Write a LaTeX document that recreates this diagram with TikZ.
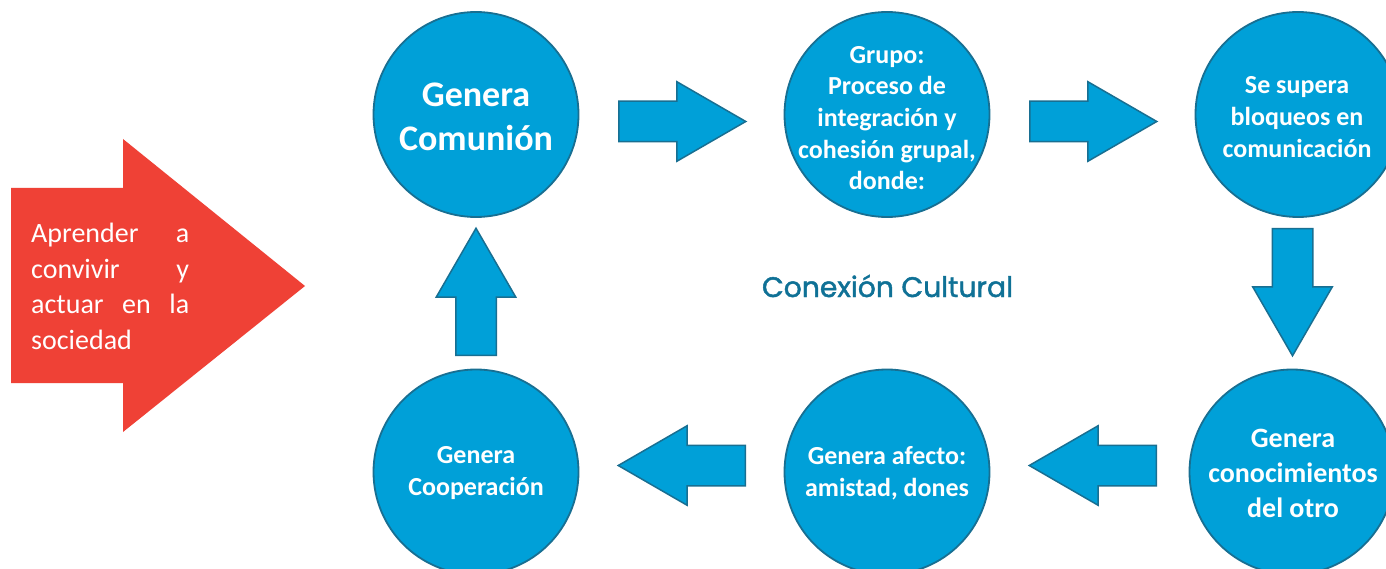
\documentclass[tikz,border=0pt]{standalone}
\usepackage{fontspec}
\usepackage{graphicx}
\setmainfont{Carlito}
\newfontfamily\conexfont{Poppins}[FakeBold=1.6]
\usetikzlibrary{shapes.arrows,calc}
\definecolor{cblue}{HTML}{00A0D8}
\definecolor{cedge}{HTML}{186F92}
\definecolor{cred}{HTML}{EF4136}
\definecolor{cteal}{HTML}{0F7196}
\begin{document}
\begin{tikzpicture}[x=1pt,y=-1pt,
  bubble/.style={circle, fill=cblue, draw=cedge, line width=1.8pt, minimum size=205pt, inner sep=0pt},
  btext/.style={text=white, align=center, inner sep=0pt},
  barrow/.style={single arrow, fill=cblue, draw=cedge, line width=1.5pt,
    minimum height=127pt, minimum width=78pt, inner xsep=0pt, inner ysep=19.5pt,
    single arrow head extend=19.5pt, single arrow tip angle=60, anchor=tail}
]
\useasboundingbox (0,0) rectangle (1386,569);
\fill[white] (0,0) rectangle (1386,569);
\clip (0,0) rectangle (1386,569);

% red block arrow
\fill[cred] (11,188) -- (123,188) -- (123,139) -- (305,286) -- (123,432) -- (123,383) -- (11,383) -- cycle;
\node[anchor=base west, inner sep=0pt, text=white] (rt) at (31,243)
  {\parbox[t]{158pt}{\fontsize{28}{35.5}\selectfont
   \hbox to 158pt{Aprender\hfill a}%
   \hbox to 158pt{convivir\hfill y}%
   \hbox to 158pt{actuar\hfill en\hfill la}%
   \hbox{sociedad}}};

% circles
\node[bubble] (c1) at (476,114.5) {};
\node[bubble] (c2) at (887,114.5) {};
\node[bubble] (c3) at (1298,114.5) {};
\node[bubble] (c4) at (1292,472) {};
\node[bubble] (c5) at (887,472) {};
\node[bubble] (c6) at (476,472) {};

% texts
\node[btext, font=\bfseries\fontsize{36}{44}\selectfont] (t1) at (476,117) {Genera\\Comunión};
\node[btext, font=\bfseries\fontsize{26}{31.7}\selectfont] (t2) at (887,118) {Grupo:\\Proceso de\\integración y\\cohesión grupal,\\donde:};
\node[btext, font=\bfseries\fontsize{26}{31.7}\selectfont] (t3) at (1297,117) {Se supera\\bloqueos en\\comunicación};
\node[btext, font=\bfseries\fontsize{28}{35}\selectfont] (t4) at (1293,473) {Genera\\conocimientos\\del otro};
\node[btext, font=\bfseries\fontsize{26}{31.7}\selectfont] (t5) at (887,473.5) {Genera afecto:\\amistad, dones};
\node[btext, font=\bfseries\fontsize{26}{31.7}\selectfont] (t6) at (476,473) {Genera\\Cooperación};

% block arrows (placed by their tail, between the circles)
\node[barrow] (a1) at ($(c1)!0.5!(c2)+(-63.5,7)$) {};
\node[barrow] (a2) at ($(c2)!0.5!(c3)+(-63.5,7)$) {};
\node[barrow, rotate=-90] (a3) at ($(c3)!0.5!(c4)+(-2.5,-65.25)$) {};
\node[barrow, rotate=180] (a4) at ($(c4)!0.5!(c5)+(67.5,-6.5)$) {};
\node[barrow, rotate=180] (a5) at ($(c5)!0.5!(c6)+(64.5,-6.5)$) {};
\node[barrow, rotate=90] (a6) at ($(c6)!0.5!(c1)+(0,62.75)$) {};

% center label
\node[anchor=base, inner sep=0pt, text=cteal] (cc) at (887.5,297)
  {\resizebox{251pt}{!}{\conexfont Conexión Cultural}};
\end{tikzpicture}
\end{document}
